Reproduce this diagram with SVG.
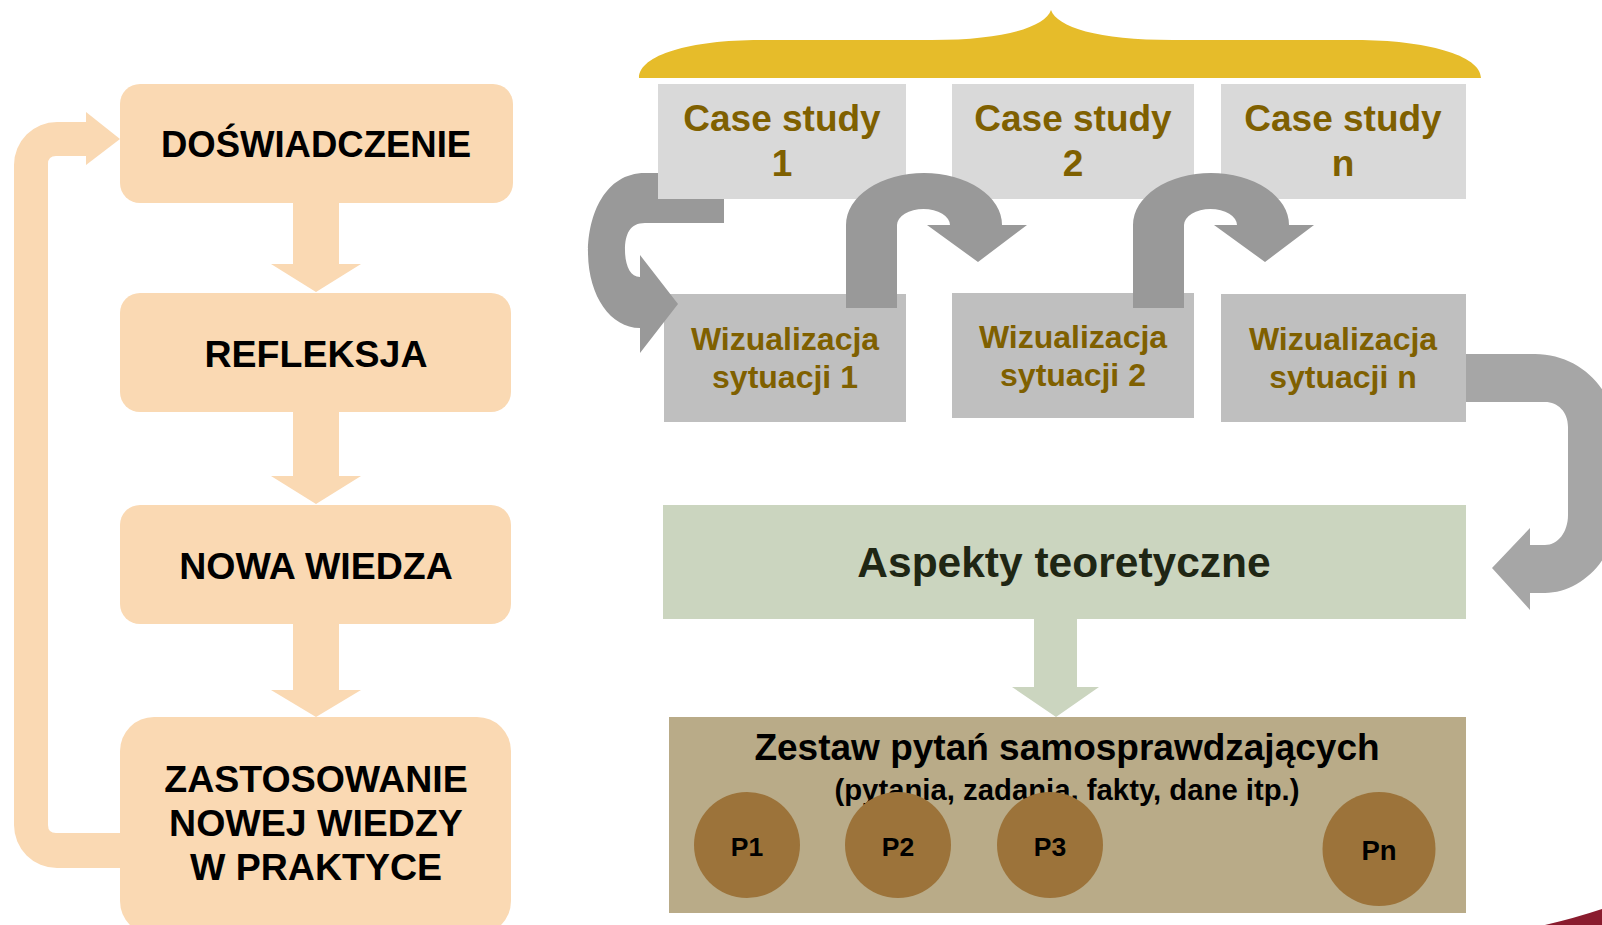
<svg xmlns="http://www.w3.org/2000/svg" width="1602" height="925" viewBox="0 0 1602 925">
<style>
.peach{fill:#FAD9B3}
.lt{font-family:"Liberation Sans",Arial,sans-serif;font-weight:bold;fill:#000;text-anchor:middle;font-size:37.5px}
.cs{fill:#D9D9D9}
.wz{fill:#BFBFBF}
.ol{font-family:"Liberation Sans",Arial,sans-serif;font-weight:bold;fill:#7F6000;text-anchor:middle}
.garr{fill:#999999}
.circ{fill:#9C733A}
.pl{font-family:"Liberation Sans",Arial,sans-serif;font-weight:bold;fill:#000;text-anchor:middle;font-size:26.5px}
</style>
<rect width="1602" height="925" fill="#FFFFFF"/>

<!-- connectors (back) -->
<g id="connectors">
  <path class="peach" d="M293,202 L339,202 L339,264 L361,264 L316,292 L271,264 L293,264 Z"/>
  <path class="peach" d="M293,411 L339,411 L339,476 L361,476 L316,504 L271,476 L293,476 Z"/>
  <path class="peach" d="M293,623 L339,623 L339,690 L361,690 L316,717 L271,690 L293,690 Z"/>
  <path class="peach" d="M121,833 L56,833 Q48,833 48,825 L48,164 Q48,156 56,156 L86,156 L86,165 L120,139 L86,112 L86,122 L57,122 A43,43 0 0 0 14,165 L14,825 A43,43 0 0 0 57,868 L121,868 Z"/>
  <path id="brace" fill="#E6BC2A" d="M639,78 C639,55 690,40 760,40 L932,40 C1005,40 1045,27 1051,10 C1057,27 1097,40 1173,40 L1356,40 C1425,40 1481,55 1481,78 Z"/>
</g>

<!-- left column nodes -->
<g id="n-doswiadczenie">
  <rect class="peach" x="120" y="84" width="393" height="119" rx="20"/>
  <text class="lt" x="316" y="157" style="font-size:36.5px">DOŚWIADCZENIE</text>
</g>
<g id="n-refleksja">
  <rect class="peach" x="120" y="293" width="391" height="119" rx="20"/>
  <text class="lt" x="316" y="367">REFLEKSJA</text>
</g>
<g id="n-nowa-wiedza">
  <rect class="peach" x="120" y="505" width="391" height="119" rx="20"/>
  <text class="lt" x="316" y="579">NOWA WIEDZA</text>
</g>
<g id="n-zastosowanie">
  <rect class="peach" x="120" y="717" width="391" height="218" rx="34"/>
  <text class="lt" x="316" y="792">ZASTOSOWANIE</text>
  <text class="lt" x="316" y="836">NOWEJ WIEDZY</text>
  <text class="lt" x="316" y="880">W PRAKTYCE</text>
</g>

<!-- visualisations -->
<g id="n-wiz1">
  <rect class="wz" x="664" y="294" width="242" height="128"/>
  <text class="ol" x="785" y="350" font-size="32">Wizualizacja</text>
  <text class="ol" x="785" y="388" font-size="32">sytuacji 1</text>
</g>
<g id="n-wiz2">
  <rect class="wz" x="952" y="293" width="242" height="125"/>
  <text class="ol" x="1073" y="348" font-size="32">Wizualizacja</text>
  <text class="ol" x="1073" y="386" font-size="32">sytuacji 2</text>
</g>
<g id="n-wizn">
  <rect class="wz" x="1221" y="294" width="245" height="128"/>
  <text class="ol" x="1343" y="350" font-size="32">Wizualizacja</text>
  <text class="ol" x="1343" y="388" font-size="32">sytuacji n</text>
</g>

<!-- arrow A: over visualisation 1, under case study 1 -->
<g id="connector-a">
  <path class="garr" d="M724,173 L645,173 C605,173 588,215 588,252 C588,295 610,328 640,328 L640,353 L678,304 L640,255 L640,277 C630,277 625,265 625,250 C625,234 630,223 645,223 L724,223 Z"/>
</g>

<!-- case studies -->
<g id="n-cs1">
  <rect class="cs" x="658" y="84" width="248" height="115"/>
  <text class="ol" x="782" y="131" font-size="37">Case study</text>
  <text class="ol" x="782" y="176" font-size="37">1</text>
</g>
<g id="n-cs2">
  <rect class="cs" x="952" y="84" width="242" height="115"/>
  <text class="ol" x="1073" y="131" font-size="37">Case study</text>
  <text class="ol" x="1073" y="176" font-size="37">2</text>
</g>
<g id="n-csn">
  <rect class="cs" x="1221" y="84" width="245" height="115"/>
  <text class="ol" x="1343" y="131" font-size="37">Case study</text>
  <text class="ol" x="1343" y="176" font-size="37">n</text>
</g>

<!-- arrows in front -->
<g id="connectors-front">
  <path id="arrowB" class="garr" d="M846,308 L846,225 A78,52 0 0 1 1002,225 L1027,225 L978,262 L927,225 L950,225 A26.5,16 0 0 0 897,225 L897,308 Z"/>
  <path id="arrowC" class="garr" d="M1133,308 L1133,225 A78,52 0 0 1 1289,225 L1314,225 L1265,262 L1214,225 L1237,225 A26.5,16 0 0 0 1184,225 L1184,308 Z"/>
  <path id="arrowD" fill="#A6A6A6" d="M1466,354 L1535,354 C1580,354 1616,390 1616,435 L1616,515 C1616,560 1580,593 1545,593 L1530,593 L1530,610 L1492,568 L1530,528 L1530,545 L1545,545 C1558,545 1568,532 1568,515 L1568,427 C1568,412 1558,402 1545,402 L1466,402 Z"/>
  <path id="arrowE" fill="#CBD5BF" d="M1034,618 L1077,618 L1077,687 L1099,687 L1056,717 L1012,687 L1034,687 Z"/>
</g>

<g id="n-aspekty">
  <rect fill="#CBD5BF" x="663" y="505" width="803" height="114"/>
  <text x="1064" y="577" font-family="'Liberation Sans',Arial,sans-serif" font-weight="bold" font-size="42.5" fill="#1F2614" text-anchor="middle">Aspekty teoretyczne</text>
</g>

<g id="n-zestaw">
  <rect fill="#B9AB88" x="669" y="717" width="797" height="196"/>
  <text x="1067" y="760" font-family="'Liberation Sans',Arial,sans-serif" font-weight="bold" font-size="37" fill="#000" text-anchor="middle">Zestaw pytań samosprawdzających</text>
  <text x="1067" y="800" font-family="'Liberation Sans',Arial,sans-serif" font-weight="bold" font-size="29.3" fill="#000" text-anchor="middle">(pytania, zadania, fakty, dane itp.)</text>
</g>
<g id="n-p1">
  <circle class="circ" cx="747" cy="845" r="53"/>
  <text class="pl" x="747" y="856">P1</text>
</g>
<g id="n-p2">
  <circle class="circ" cx="898" cy="845" r="53"/>
  <text class="pl" x="898" y="856">P2</text>
</g>
<g id="n-p3">
  <circle class="circ" cx="1050" cy="845" r="53"/>
  <text class="pl" x="1050" y="856">P3</text>
</g>
<g id="n-pn">
  <ellipse class="circ" cx="1379" cy="849" rx="56.5" ry="57"/>
  <text class="pl" x="1379" y="860" style="font-size:27.5px">Pn</text>
</g>

<path fill="#8A1C2E" d="M1545,925 Q1575,918 1602,909 L1602,925 Z"/>
</svg>
